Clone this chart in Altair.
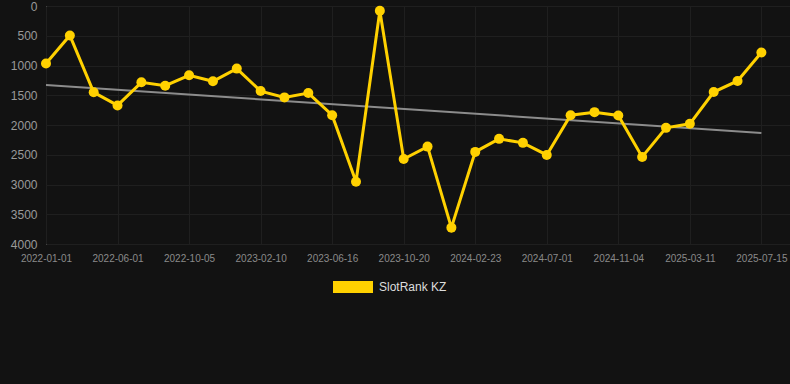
import altair as alt
import pandas as pd

# Visible x tick labels (every third category)
tick_labels = ["2022-01-01", "2022-06-01", "2022-10-05", "2023-02-10", "2023-06-16",
               "2023-10-20", "2024-02-23", "2024-07-01", "2024-11-04", "2025-03-11",
               "2025-07-15"]
# SlotRank KZ rank values, one per category (31 points)
ranks = [967, 495, 1451, 1671, 1283, 1339, 1165, 1266, 1052, 1430, 1536, 1463,
         1835, 2954, 79, 2571, 2363, 3725, 2452, 2233, 2300, 2503, 1835, 1784,
         1840, 2537, 2048, 1980, 1446, 1260, 782]
series_name = "SlotRank KZ"

df = pd.DataFrame({"idx": list(range(len(ranks))), "rank": ranks})

BG = "#121212"
YELLOW = "#FFD100"
GRID = "#1f1f1f"
label_arr = "[" + ",".join('"%s"' % s for s in tick_labels) + "]"

x_enc = alt.X("idx:Q",
              scale=alt.Scale(domain=[0, 31.2], nice=False, zero=False),
              axis=alt.Axis(values=list(range(0, 31, 3)),
                            labelExpr=label_arr + "[round(datum.value/3)]",
                            title=None, domain=False, ticks=False,
                            labelPadding=9, labelFontSize=10, labelColor="#8a8a8a",
                            gridColor=GRID, gridWidth=1, labelFlush=False))
y_enc = alt.Y("rank:Q",
              scale=alt.Scale(domain=[0, 4000], reverse=True, nice=False),
              axis=alt.Axis(values=list(range(0, 4001, 500)), title=None, format="d",
                            domain=False, ticks=False, labelPadding=9,
                            labelFontSize=12, labelColor="#9a9a9a",
                            gridColor=GRID, gridWidth=1))

base = alt.Chart(df)

trend = base.transform_regression("idx", "rank").mark_line(
    color="#8c8c8c", strokeWidth=2
).encode(x=x_enc, y=y_enc)

line = base.mark_line(strokeWidth=3).encode(
    x=x_enc, y=y_enc,
    color=alt.Color("series:N",
                    scale=alt.Scale(domain=[series_name], range=[YELLOW]),
                    legend=alt.Legend(
                        title=None, orient="none", legendX=287, legendY=261,
                        symbolType="M-1,-0.3L1,-0.3L1,0.3L-1,0.3Z",
                        symbolSize=1600, symbolStrokeWidth=0,
                        symbolFillColor=YELLOW,
                        labelFontSize=12, labelColor="#dddddd",
                        labelOffset=6)),
).transform_calculate(series="'%s'" % series_name)

points = base.mark_circle(size=100, opacity=1, color=YELLOW).encode(x=x_enc, y=y_enc)

chart = alt.layer(trend, line, points).properties(
    width=744, height=238,
    background=BG,
    padding={"left": 46, "top": 6, "right": 0, "bottom": 140},
    autosize=alt.AutoSizeParams(type="none"),
).configure_view(stroke=None).configure(font="Liberation Sans")

chart.save("out.html", embed_options={"renderer": "svg", "actions": False})
